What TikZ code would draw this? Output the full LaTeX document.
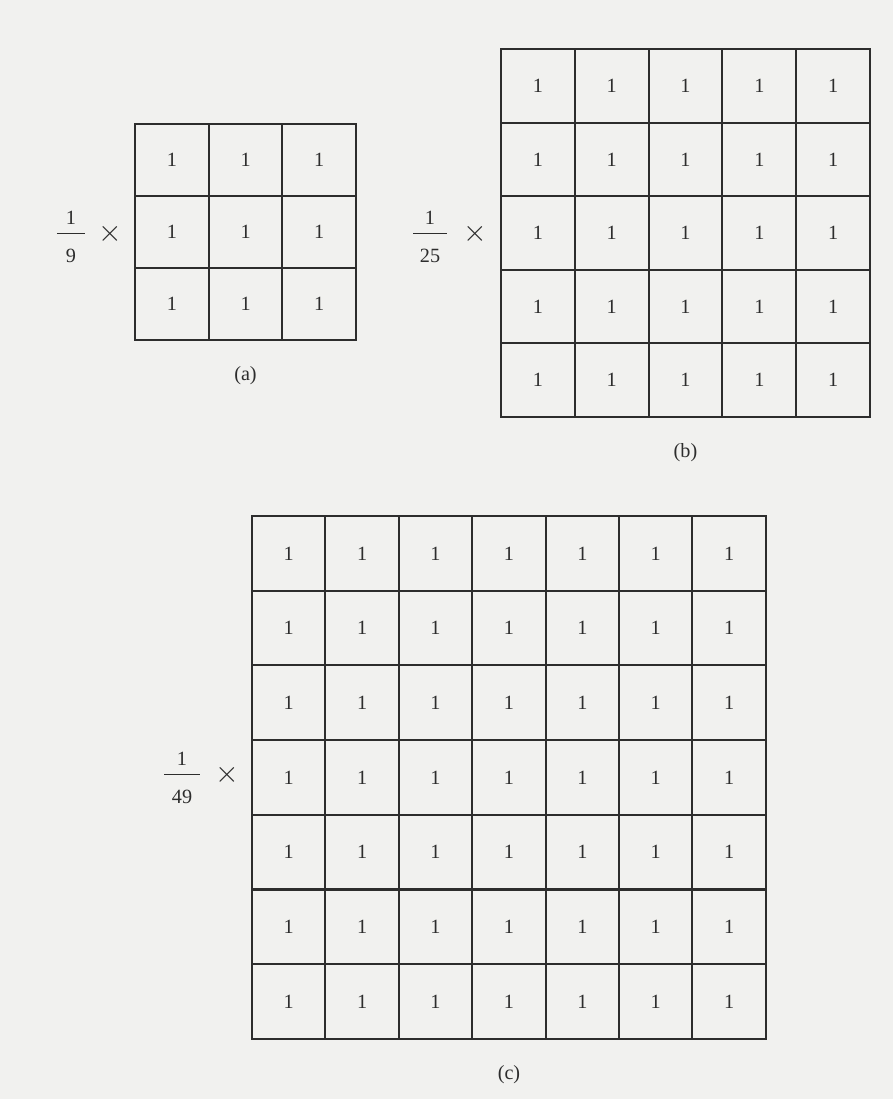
\documentclass[tikz,border=0pt]{standalone}
\usepackage{amsmath}
\usepackage{fontspec}
\setmainfont{Liberation Serif}
\definecolor{scanpaper}{RGB}{241,241,239}
\definecolor{scanink}{RGB}{45,45,45}

\begin{document}
\begin{tikzpicture}[
    x=0.02cm, y=-0.02cm,
    every node/.style={font=\fontsize{11.5}{13}\selectfont, text=scanink},
    cell/.style={draw=scanink, line width=1.2pt, inner sep=0pt},
    timesmark/.style={font=\fontsize{17}{17}\selectfont},
]
% Page
\fill[scanpaper] (0,0) rectangle (893,1099);

% Mask (a): 3 x 3
\foreach \r in {1,...,3}
  \foreach \c in {1,...,3}
    \node[cell, minimum width=1.474cm, minimum height=1.44cm]
      (a-\r-\c) at ({135+73.7*(\c-0.5)}, {124+72*(\r-0.5)}) {1};
\node (a-frac) at (71, 237)
  {$\genfrac{}{}{1pt}{0}{\text{1}}{\rule{0pt}{13pt}\makebox[16pt]{9}}$};
\node[timesmark] (a-times) at (110, 234) {$\times$};
\node (a-cap) at (245.5, 376) {(a)};

% Mask (b): 5 x 5
\foreach \r in {1,...,5}
  \foreach \c in {1,...,5}
    \node[cell, minimum width=1.476cm, minimum height=1.472cm]
      (b-\r-\c) at ({501+73.8*(\c-0.5)}, {49+73.6*(\r-0.5)}) {1};
\node (b-frac) at (430, 237)
  {$\genfrac{}{}{1pt}{0}{\text{1}}{\rule{0pt}{13pt}\makebox[19pt]{25}}$};
\node[timesmark] (b-times) at (475, 234) {$\times$};
\node (b-cap) at (685.5, 453) {(b)};

% Mask (c): 7 x 7
\foreach \r in {1,...,7}
  \foreach \c in {1,...,7}
    \node[cell, minimum width=1.468cm, minimum height=1.494cm]
      (c-\r-\c) at ({252+73.4*(\c-0.5)}, {516+74.7*(\r-0.5)}) {1};
\node (c-frac) at (182, 778)
  {$\genfrac{}{}{1pt}{0}{\text{1}}{\rule{0pt}{13pt}\makebox[20pt]{49}}$};
\node[timesmark] (c-times) at (227, 775) {$\times$};
\node (c-cap) at (509, 1075) {(c)};

\end{tikzpicture}
\end{document}
